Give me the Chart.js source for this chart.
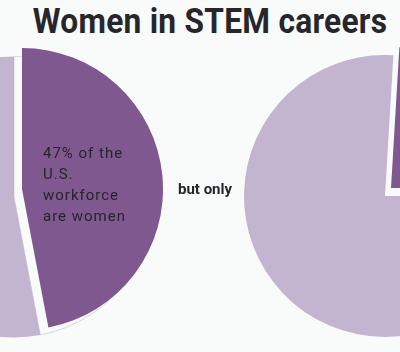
<!DOCTYPE html>
<html>
<head>
<meta charset="utf-8">
<script src="https://cdn.jsdelivr.net/npm/chart.js@4"></script>
<style>
  html, body { margin: 0; padding: 0; }
  body {
    width: 400px; height: 352px; overflow: hidden; position: relative;
    background: #f9fafa; font-family: "Roboto", "DejaVu Sans", sans-serif; color: #26262b;
  }
  canvas { position: absolute; }
  #title {
    position: absolute; left: 0; top: 1px; width: 400px; text-align: center;
    font-size: 35px; font-weight: bold; letter-spacing: 0.3px; white-space: nowrap;
    transform: translateX(10px) scaleX(0.905); transform-origin: 200px 0; z-index: 5;
  }
  #note {
    position: absolute; left: 43px; top: 143px; font-size: 15px; line-height: 21px;
    letter-spacing: 1px; z-index: 5;
  }
  #butonly {
    position: absolute; left: 178px; top: 180px; font-size: 15px; font-weight: bold; z-index: 5;
  }
</style>
</head>
<body>
<div id="title">Women in STEM careers</div>
<canvas id="leftBase" width="282" height="282" style="left:-127px;top:56px"></canvas>
<canvas id="leftSlice" width="282" height="282" style="left:-119px;top:48px"></canvas>
<canvas id="rightBase" width="282" height="282" style="left:244px;top:55px"></canvas>
<canvas id="rightSlice" width="282" height="282" style="left:250px;top:47px"></canvas>
<div id="note">47% of the<br>U.S.<br>workforce<br>are women</div>
<div id="butonly">but only</div>
<script>
// Données
const categories = ['Women', 'Men'];
const workforceShare = [47, 53];
const stemShare = [24, 76];

const purple = '#7e588e';
const lilac = '#c3b4d0';
const none = 'rgba(0,0,0,0)';

// Une couche de camembert : seules les parts colorées sont visibles
function makePie(id, values, colors, rotation, borders) {
    const ctx = document.getElementById(id).getContext('2d');
    return new Chart(ctx, {
        type: 'pie',
        data: {
            labels: categories,
            datasets: [{
                data: values,
                backgroundColor: colors,
                borderColor: borders || [none, none],
                borderWidth: borders ? 1 : 0
            }]
        },
        options: {
            responsive: false,
            animation: false,
            rotation: rotation,
            layout: { padding: 0 },
            plugins: {
                legend: { display: false },
                tooltip: { enabled: false }
            }
        }
    });
}

makePie('leftBase', workforceShare, [none, lilac], 0, ['rgba(200,200,210,0.7)', none]);
makePie('leftSlice', workforceShare, [purple, none], 0);
makePie('rightBase', stemShare, [none, lilac], 3.4);
makePie('rightSlice', stemShare, [purple, none], 3.4);
</script>
</body>
</html>
